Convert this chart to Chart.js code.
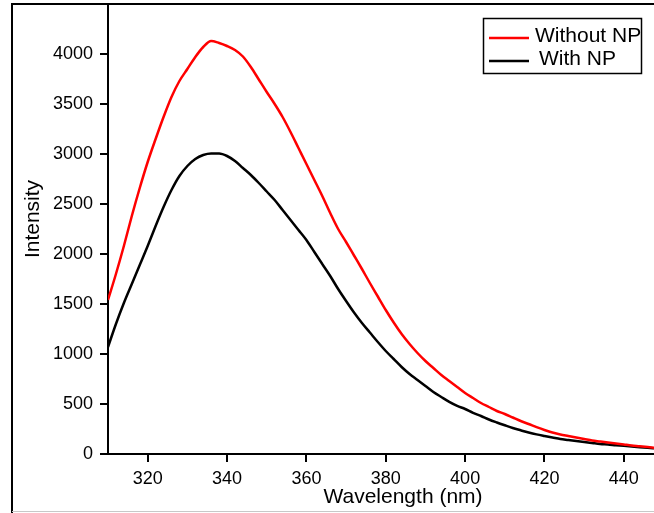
<!DOCTYPE html>
<html>
<head>
<meta charset="utf-8">
<script src="https://cdn.jsdelivr.net/npm/chart.js@4.4.1/dist/chart.umd.min.js"></script>
<style>
  html, body { margin: 0; padding: 0; background: #fff; overflow: hidden; }
  #wrap { width: 654px; height: 513px; }
</style>
</head>
<body>
<div id="wrap"><canvas id="spectrum" width="654" height="513"></canvas></div>
<script>
const wavelengths = [310, 312, 314, 316, 318, 320, 322, 324, 326, 328, 330, 332, 334, 336, 338, 340, 342, 344, 346, 348,
  350, 352, 354, 356, 358, 360, 362, 364, 366, 368, 370, 372, 374, 376, 378, 380, 382, 384, 386, 388,
  390, 392, 394, 396, 398, 400, 402, 404, 406, 408, 410, 412, 414, 416, 418, 420, 422, 424, 426, 428,
  430, 432, 434, 436, 438, 440, 442, 444, 446, 448];

const withoutNP = [1540, 1800, 2080, 2380, 2660, 2920, 3150, 3370, 3570, 3730, 3850, 3970, 4070, 4130, 4110, 4080, 4040, 3975, 3870, 3745,
  3620, 3500, 3370, 3220, 3060, 2900, 2740, 2580, 2410, 2250, 2120, 1985, 1850, 1710, 1575, 1440, 1315, 1200, 1100, 1010,
  930, 860, 790, 730, 670, 610, 560, 510, 470, 430, 400, 365, 330, 300, 268, 240, 215, 195, 180, 165,
  150, 135, 125, 115, 105, 95, 85, 78, 70, 62];

const withNP = [1070, 1300, 1510, 1700, 1890, 2080, 2280, 2470, 2640, 2780, 2880, 2950, 2990, 3005, 3005, 2980, 2930, 2860, 2790, 2710,
  2625, 2540, 2440, 2340, 2240, 2140, 2020, 1900, 1780, 1650, 1530, 1415, 1310, 1215, 1120, 1030, 950, 870, 800, 740,
  680, 620, 570, 522, 482, 450, 412, 380, 345, 315, 287, 260, 237, 215, 196, 180, 165, 150, 140, 130,
  120, 110, 100, 95, 88, 82, 75, 68, 62, 57];

const xTicks = [320, 340, 360, 380, 400, 420, 440];
const yTicks = [0, 500, 1000, 1500, 2000, 2500, 3000, 3500, 4000];

const seriesNames = ["Without NP", "With NP"];
const seriesColors = ["#ff0000", "#000000"];

const toPoints = values => values.map((v, i) => ({ x: wavelengths[i], y: v }));

// frame, axis titles and boxed legend
const decorations = {
  id: "decorations",
  afterDraw(chart) {
    const c = chart.ctx;
    c.save();
    c.strokeStyle = "#000";
    c.lineWidth = 2;
    c.beginPath();
    c.moveTo(12, 513);
    c.lineTo(12, 4);
    c.lineTo(654, 4);
    c.stroke();
    c.strokeStyle = "#c8c8c8";
    c.lineWidth = 1;
    c.beginPath();
    c.moveTo(12, 511.5);
    c.lineTo(654, 511.5);
    c.stroke();

    c.fillStyle = "#000";
    c.font = "21px 'Liberation Sans', Arial, sans-serif";
    c.textAlign = "center";
    c.textBaseline = "middle";
    c.fillText("Wavelength (nm)", 403, 497);
    c.translate(33, 219);
    c.rotate(-Math.PI / 2);
    c.fillText("Intensity", 0, 0);
    c.restore();

    c.save();
    c.strokeStyle = "#000";
    c.lineWidth = 1.5;
    c.strokeRect(483.5, 18.5, 158, 55);
    c.font = "21px 'Liberation Sans', Arial, sans-serif";
    c.textBaseline = "middle";
    const rows = [{ y: 38, tx: 535 }, { y: 61, tx: 539 }];
    chart.data.datasets.forEach((ds, i) => {
      c.strokeStyle = ds.borderColor;
      c.lineWidth = 2.5;
      c.beginPath();
      c.moveTo(489, rows[i].y);
      c.lineTo(529, rows[i].y);
      c.stroke();
      c.fillStyle = "#000";
      c.fillText(ds.label, rows[i].tx, rows[i].y - 2);
    });
    c.restore();
  }
};

const tickFont = { family: "'Liberation Sans', Arial, sans-serif", size: 18 };

new Chart(document.getElementById("spectrum"), {
  type: "line",
  data: {
    datasets: [
      { label: seriesNames[0], data: toPoints(withoutNP), borderColor: seriesColors[0], borderWidth: 2.5 },
      { label: seriesNames[1], data: toPoints(withNP), borderColor: seriesColors[1], borderWidth: 2.5 }
    ]
  },
  options: {
    responsive: false,
    animation: false,
    layout: { padding: { top: 4, left: 0, right: 0, bottom: 0 } },
    elements: { point: { radius: 0 }, line: { cubicInterpolationMode: "monotone" } },
    scales: {
      x: {
        type: "linear",
        min: 310,
        max: 447.6,
        afterFit: s => { s.height = 59; s.paddingLeft = 0; s.paddingRight = 0; },
        afterBuildTicks: s => { s.ticks = xTicks.map(v => ({ value: v })); },
        grid: { drawOnChartArea: false, drawTicks: true, tickLength: 8, color: "#000", lineWidth: 2 },
        border: { color: "#000", width: 2 },
        ticks: { color: "#000", font: tickFont, padding: 6, maxRotation: 0, callback: v => String(v) }
      },
      y: {
        min: 0,
        max: 4500,
        afterFit: s => { s.width = 108; s.paddingTop = 0; s.paddingBottom = 0; },
        afterBuildTicks: s => { s.ticks = yTicks.map(v => ({ value: v })); },
        grid: { drawOnChartArea: false, drawTicks: true, tickLength: 8, color: "#000", lineWidth: 2 },
        border: { color: "#000", width: 2 },
        ticks: { color: "#000", font: tickFont, padding: 7, callback: v => String(v) }
      }
    },
    plugins: {
      legend: { display: false },
      tooltip: { enabled: false }
    }
  },
  plugins: [decorations]
});
</script>
</body>
</html>
